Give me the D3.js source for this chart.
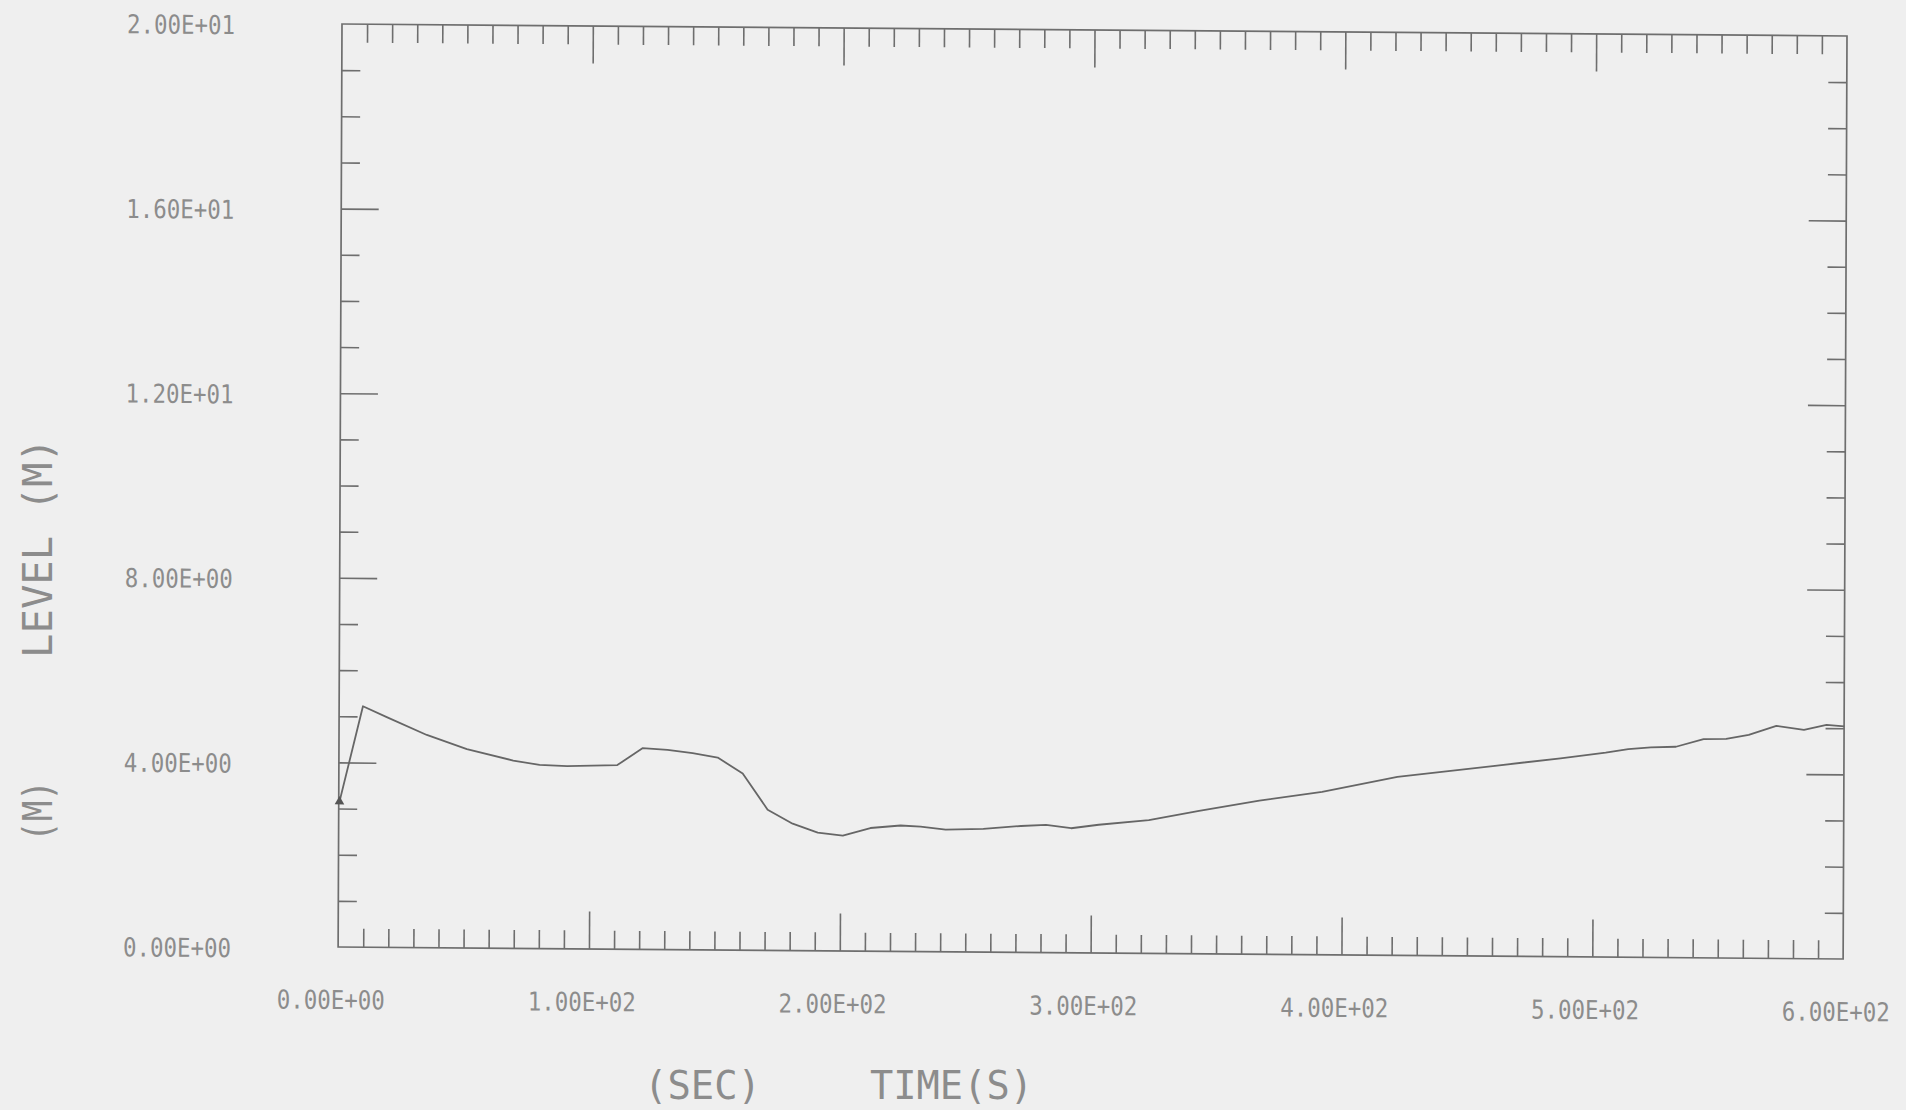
<!DOCTYPE html>
<html>
<head>
<meta charset="utf-8">
<script src="https://cdn.jsdelivr.net/npm/d3@7"></script>
<style>
  html, body { margin: 0; padding: 0; background: #efefef; }
  svg { display: block; }
</style>
</head>
<body>
<svg id="chart" width="1906" height="1110"></svg>
<script>
// ---- data ----
const timeS = [0.3, 9.5, 19, 35, 51, 69.5, 80, 91, 111, 121, 131, 141, 151, 161, 171, 181, 191, 201, 212, 224, 232, 242, 257, 272, 282, 292, 303, 323, 343, 367, 392, 422, 437, 460, 487, 505, 514, 523, 533, 544, 553, 562, 573, 584, 593, 600];
const levelM = [3.15, 5.22, 4.99, 4.61, 4.31, 4.07, 3.98, 3.96, 3.99, 4.36, 4.33, 4.26, 4.17, 3.83, 3.05, 2.75, 2.56, 2.50, 2.67, 2.73, 2.71, 2.65, 2.67, 2.74, 2.77, 2.70, 2.78, 2.89, 3.10, 3.33, 3.53, 3.87, 3.97, 4.12, 4.30, 4.43, 4.51, 4.55, 4.57, 4.74, 4.75, 4.84, 5.04, 4.96, 5.07, 5.04];

const xMajorTicks = [0, 100, 200, 300, 400, 500, 600];
const xTickLabels = ["0.00E+00", "1.00E+02", "2.00E+02", "3.00E+02", "4.00E+02", "5.00E+02", "6.00E+02"];
const yMajorTicks = [0, 4, 8, 12, 16, 20];
const yTickLabels = ["0.00E+00", "4.00E+00", "8.00E+00", "1.20E+01", "1.60E+01", "2.00E+01"];
const xDomain = [0, 600];
const yDomain = [0, 20];
const xTitleParts = ["(SEC)", "TIME(S)"];
const yTitleParts = ["(M)", "LEVEL (M)"];

// ---- layout ----
const plotLeft = 342, plotTop = 24, W = 1505, H = 923;
const slopeY = 0.00797, slopeX = -0.0042;   // slight skew of the scanned sheet
const lineCol = "#6e6e6e", textCol = "#8c8c8c";
const font = "'DejaVu Sans Mono', 'Liberation Mono', monospace";

const svg = d3.select("#chart");
svg.append("rect").attr("width", 1906).attr("height", 1110).attr("fill", "#efefef");

const g = svg.append("g")
  .attr("transform", `matrix(1,${slopeY},${slopeX},1,${plotLeft},${plotTop})`);

const x = d3.scaleLinear().domain(xDomain).range([0, W]);
const y = d3.scaleLinear().domain(yDomain).range([H, 0]);

const xMinor = d3.range(10, 600, 10).filter(v => v % 100 !== 0);
const yMinor = d3.range(1, 20, 1).filter(v => v % 4 !== 0);
const xMajInner = xMajorTicks.filter(v => v > 0 && v < 600);
const yMajInner = yMajorTicks.filter(v => v > 0 && v < 20);

function styleAxis(sel) {
  sel.select(".domain").remove();
  sel.selectAll(".tick line").attr("stroke", lineCol).attr("stroke-width", 1.6);
  sel.selectAll(".tick text").remove();
}

const minorLen = 18.5, majorLen = 37.5;
g.append("g").attr("transform", `translate(0,${H})`)
  .call(d3.axisBottom(x).tickValues(xMinor).tickSize(-minorLen).tickFormat("")).call(styleAxis);
g.append("g").attr("transform", `translate(0,${H})`)
  .call(d3.axisBottom(x).tickValues(xMajInner).tickSize(-majorLen).tickFormat("")).call(styleAxis);
g.append("g")
  .call(d3.axisTop(x).tickValues(xMinor).tickSize(-minorLen).tickFormat("")).call(styleAxis);
g.append("g")
  .call(d3.axisTop(x).tickValues(xMajInner).tickSize(-majorLen).tickFormat("")).call(styleAxis);
g.append("g")
  .call(d3.axisLeft(y).tickValues(yMinor).tickSize(-minorLen).tickFormat("")).call(styleAxis);
g.append("g")
  .call(d3.axisLeft(y).tickValues(yMajInner).tickSize(-majorLen).tickFormat("")).call(styleAxis);
g.append("g").attr("transform", `translate(${W},0)`)
  .call(d3.axisRight(y).tickValues(yMinor).tickSize(-minorLen).tickFormat("")).call(styleAxis);
g.append("g").attr("transform", `translate(${W},0)`)
  .call(d3.axisRight(y).tickValues(yMajInner).tickSize(-majorLen).tickFormat("")).call(styleAxis);

g.append("rect").attr("x", x(xDomain[0])).attr("y", y(yDomain[1]))
  .attr("width", x(xDomain[1]) - x(xDomain[0])).attr("height", y(yDomain[0]) - y(yDomain[1]))
  .attr("fill", "none").attr("stroke", lineCol).attr("stroke-width", 1.7);

g.selectAll(".ylab").data(yMajorTicks).enter().append("text")
  .attr("x", -107).attr("y", d => y(d) + 2)
  .attr("text-anchor", "end").attr("dominant-baseline", "central")
  .attr("font-family", font).attr("font-size", 26).attr("fill", textCol)
  .attr("textLength", 108).attr("lengthAdjust", "spacingAndGlyphs")
  .text((d, i) => yTickLabels[i]);

g.selectAll(".xlab").data(xMajorTicks).enter().append("text")
  .attr("x", d => x(d) - 7).attr("y", H + 53)
  .attr("text-anchor", "middle").attr("dominant-baseline", "central")
  .attr("font-family", font).attr("font-size", 26).attr("fill", textCol)
  .attr("textLength", 108).attr("lengthAdjust", "spacingAndGlyphs")
  .text((d, i) => xTickLabels[i]);

const pts = timeS.map((t, i) => [t, levelM[i]]);
const line = d3.line().x(d => x(d[0])).y(d => y(d[1]));
g.append("path").datum(pts).attr("d", line)
  .attr("fill", "none").attr("stroke", "#666").attr("stroke-width", 1.8)
  .attr("stroke-linejoin", "round");

g.append("path").attr("d", d3.symbol().type(d3.symbolTriangle).size(40)())
  .attr("transform", `translate(${x(pts[0][0])},${y(pts[0][1])})`)
  .attr("fill", "#555");

svg.append("text").attr("x", 644).attr("y", 1085).attr("dominant-baseline", "central")
  .attr("font-family", font).attr("font-size", 39).attr("fill", textCol)
  .attr("textLength", 117).attr("lengthAdjust", "spacingAndGlyphs").text(xTitleParts[0]);
svg.append("text").attr("x", 870).attr("y", 1085).attr("dominant-baseline", "central")
  .attr("font-family", font).attr("font-size", 39).attr("fill", textCol)
  .attr("textLength", 163).attr("lengthAdjust", "spacingAndGlyphs").text(xTitleParts[1]);

svg.append("text").attr("transform", "translate(38,842) rotate(-90)").attr("dominant-baseline", "central")
  .attr("font-family", font).attr("font-size", 40).attr("fill", textCol)
  .attr("textLength", 62).attr("lengthAdjust", "spacingAndGlyphs").text(yTitleParts[0]);
svg.append("text").attr("transform", "translate(38,658) rotate(-90)").attr("dominant-baseline", "central")
  .attr("font-family", font).attr("font-size", 40).attr("fill", textCol)
  .attr("textLength", 220).attr("lengthAdjust", "spacingAndGlyphs").text(yTitleParts[1]);
</script>
</body>
</html>
